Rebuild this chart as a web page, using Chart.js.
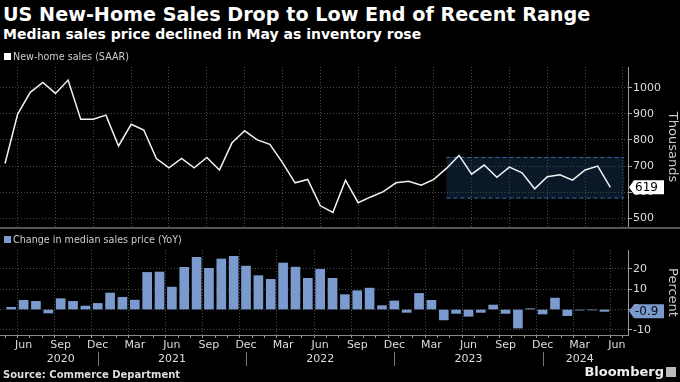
<!DOCTYPE html>
<html>
<head>
<meta charset="utf-8">
<script src="https://cdn.jsdelivr.net/npm/chart.js@4.4.1/dist/chart.umd.min.js"></script>
<style>
  body { margin: 0; background: #000; width: 680px; height: 382px; overflow: hidden; position: relative; font-family: "DejaVu Sans", sans-serif; color: #fff; }
  .txt { position: absolute; white-space: nowrap; }
  #title { left: 3px; top: 3px; font-size: 19.2px; line-height: 24px; font-weight: bold; }
  #subtitle { left: 3px; top: 25px; font-size: 14px; line-height: 18px; font-weight: bold; }
  .legend { font-size: 9.6px; line-height: 12px; color: #ccc; }
  .legend i { display: inline-block; width: 7px; height: 7px; margin-right: 2px; vertical-align: 0; }
  #leg1 { left: 4px; top: 51px; }
  #leg2 { left: 4px; top: 234px; }
  #source { left: 3px; top: 369px; font-size: 10px; line-height: 12px; font-weight: bold; color: #ddd; }
  #brand { right: 16px; top: 364px; font-size: 13px; line-height: 16px; font-weight: bold; color: #eee; }
  #icon { position: absolute; right: 4px; top: 367px; width: 10px; height: 10px; background: #bbb; }
  #sep { position: absolute; left: 0; top: 227px; width: 680px; height: 2px; background: #555; }
  #topWrap { position: absolute; left: 0; top: 62px; width: 680px; height: 166px; }
  #botWrap { position: absolute; left: 0; top: 228px; width: 680px; height: 154px; }
</style>
</head>
<body>
<div class="txt" id="title">US New-Home Sales Drop to Low End of Recent Range</div>
<div class="txt" id="subtitle">Median sales price declined in May as inventory rose</div>
<div id="topWrap"><canvas id="salesChart" width="680" height="166"></canvas></div>
<div id="sep"></div>
<div id="botWrap"><canvas id="priceChart" width="680" height="154"></canvas></div>
<div class="txt legend" id="leg1"><i style="background:#fff"></i>New-home sales (SAAR)</div>
<div class="txt legend" id="leg2"><i style="background:#7b9bcf"></i>Change in median sales price (YoY)</div>
<div class="txt" id="source">Source: Commerce Department</div>
<div class="txt" id="brand">Bloomberg</div>
<div id="icon"></div>
<script>
// monthly, May 2020 .. May 2024
const monthNames = ['Jan', 'Feb', 'Mar', 'Apr', 'May', 'Jun', 'Jul', 'Aug', 'Sep', 'Oct', 'Nov', 'Dec'];
const startMonth = 4; // May
const newHomeSales = [710, 899, 982, 1020, 978, 1029, 879, 879, 895, 777, 860, 838, 729, 693, 729, 693, 733, 685,
    789, 835, 800, 783, 713, 636, 649, 548, 523, 646, 560, 582, 602, 636, 642, 627, 649, 691, 741, 669, 704, 657,
    696, 674, 613, 659, 667, 646, 685, 700, 619];
const priceChangeYoY = [1.1, 4.5, 4.0, -1.7, 5.3, 4.0, 1.7, 3.0, 8.1, 6.0, 4.6, 18.2, 18.4, 11.0, 20.7, 25.6, 20.2,
    24.8, 26.1, 21.3, 16.6, 14.8, 22.8, 20.8, 15.3, 19.7, 15.3, 7.3, 9.2, 10.5, 1.9, 4.2, -1.4, 7.9, 4.5, -5.1, -1.9,
    -3.3, -1.4, 2.2, -1.9, -9.1, 0.4, -2.2, 5.6, -3.0, -0.3, -0.2, -0.9];
const yearLabels = { 4: '2020', 13: '2021', 25: '2022', 37: '2023', 46: '2024' };
const salesTicks = [500, 600, 700, 800, 900, 1000];
const pctTicks = [-10, 0, 10, 20];
const recentRange = { from: 35, to: 49.1, low: 576, high: 735 };

const BAR = '#7b9bcf';
const GRID = '#4a4a4a';
const monthIdx = [...Array(50).keys()];
const isLabelled = i => [2, 5, 8, 11].includes((startMonth + i) % 12);

function fixWidth(s) { s.width = 52; s.paddingTop = 0; s.paddingBottom = 0; }

function xScale(showLabels) {
    return {
        type: 'linear', min: -0.4, max: 49.4,
        afterBuildTicks: s => { s.ticks = monthIdx.map(v => ({ value: v })); },
        afterFit: s => { s.height = showLabels ? 47 : 0; s.paddingLeft = 0; s.paddingRight = 0; },
        ticks: {
            display: showLabels, autoSkip: false, maxRotation: 0, padding: 1,
            color: '#ddd', font: { family: 'DejaVu Sans', size: 11 },
            callback: v => {
                if (!isLabelled(v)) return '';
                const m = monthNames[(startMonth + v) % 12];
                return yearLabels[v] ? [m, yearLabels[v]] : m;
            }
        },
        grid: {
            drawTicks: showLabels, tickLength: 3,
            color: c => isLabelled(c.tick ? c.tick.value : -1) ? GRID : 'rgba(0,0,0,0)',
            tickColor: '#999'
        },
        border: { display: showLabels, color: '#888', dash: [1, 2] }
    };
}

const rangeBox = {
    id: 'rangeBox',
    beforeDatasetsDraw(chart) {
        const { ctx, scales: { x, y } } = chart;
        const x0 = x.getPixelForValue(recentRange.from), x1 = x.getPixelForValue(recentRange.to);
        const y0 = y.getPixelForValue(recentRange.high), y1 = y.getPixelForValue(recentRange.low);
        ctx.save();
        ctx.fillStyle = 'rgba(35,75,125,0.32)';
        ctx.fillRect(x0, y0, x1 - x0, y1 - y0);
        ctx.strokeStyle = '#3a6a9c';
        ctx.setLineDash([4, 3]);
        ctx.lineWidth = 1;
        ctx.beginPath();
        ctx.moveTo(x0, y0 + 0.5); ctx.lineTo(x1, y0 + 0.5);
        ctx.moveTo(x0, y1 - 0.5); ctx.lineTo(x1, y1 - 0.5);
        ctx.stroke();
        ctx.restore();
    }
};

function tagPlugin(values, bg, fg, fmt) {
    return {
        id: 'lastTag',
        afterDraw(chart) {
            const { ctx, chartArea } = chart;
            const v = values[values.length - 1];
            const y = chart.scales.y.getPixelForValue(v);
            const x0 = chartArea.right + 1;
            ctx.save();
            ctx.fillStyle = bg;
            ctx.beginPath();
            ctx.moveTo(x0, y);
            ctx.lineTo(x0 + 5, y - 7);
            ctx.lineTo(x0 + 35, y - 7);
            ctx.lineTo(x0 + 35, y + 7);
            ctx.lineTo(x0 + 5, y + 7);
            ctx.closePath();
            ctx.fill();
            ctx.fillStyle = fg;
            ctx.font = '12px "DejaVu Sans"';
            ctx.textAlign = 'left';
            ctx.textBaseline = 'middle';
            ctx.fillText(fmt(v), x0 + 6, y + 0.5);
            ctx.restore();
        }
    };
}

const yearDividers = {
    id: 'yearDividers',
    afterDraw(chart) {
        const { ctx, chartArea, scales: { x } } = chart;
        ctx.save();
        ctx.strokeStyle = '#777';
        ctx.lineWidth = 1;
        monthIdx.filter(i => (startMonth + i) % 12 === 11).forEach(i => {
            const px = Math.round(x.getPixelForValue(i)) + 0.5;
            ctx.beginPath();
            ctx.moveTo(px, chartArea.bottom + 17);
            ctx.lineTo(px, chartArea.bottom + 31);
            ctx.stroke();
        });
        ctx.restore();
    }
};

function yScale(min, max, ticks, title, fmt) {
    return {
        position: 'right', min: min, max: max,
        afterBuildTicks: s => { s.ticks = ticks.map(v => ({ value: v })); },
        afterFit: fixWidth,
        ticks: { color: '#ddd', padding: 1, font: { family: 'DejaVu Sans', size: 11 }, callback: fmt },
        grid: { color: GRID, tickColor: '#aaa', tickLength: 4 },
        border: { display: true, color: '#999', dash: [1, 2] },
        title: { display: true, text: title, color: '#ccc', padding: 0, font: { family: 'DejaVu Sans', size: 13 } }
    };
}

Chart.defaults.animation = false;
Chart.defaults.responsive = false;

new Chart(document.getElementById('salesChart'), {
    type: 'line',
    data: {
        datasets: [{
            data: newHomeSales.map((v, i) => ({ x: i, y: v })),
            borderColor: '#f2f2f2',
            borderWidth: 1.5,
            pointRadius: 0,
            tension: 0
        }]
    },
    options: {
        layout: { padding: { top: 5, bottom: 1, left: 0, right: 0 } },
        plugins: { legend: { display: false }, tooltip: { enabled: false } },
        scales: {
            x: xScale(false),
            y: yScale(467, 1079, salesTicks, 'Thousands', v => String(v))
        }
    },
    plugins: [rangeBox, tagPlugin(newHomeSales, '#ffffff', '#000000', v => String(v))]
});

new Chart(document.getElementById('priceChart'), {
    type: 'bar',
    data: {
        datasets: [{
            data: priceChangeYoY.map((v, i) => ({ x: i, y: v })),
            backgroundColor: BAR,
            barThickness: 9
        }]
    },
    options: {
        layout: { padding: { top: 22, bottom: 0, left: 0, right: 0 } },
        plugins: { legend: { display: false }, tooltip: { enabled: false } },
        scales: {
            x: xScale(true),
            y: yScale(-12.5, 29.2, pctTicks, 'Percent', v => String(v))
        }
    },
    plugins: [yearDividers, tagPlugin(priceChangeYoY, BAR, '#0a0a0a', v => v.toFixed(1))]
});
</script>
</body>
</html>
